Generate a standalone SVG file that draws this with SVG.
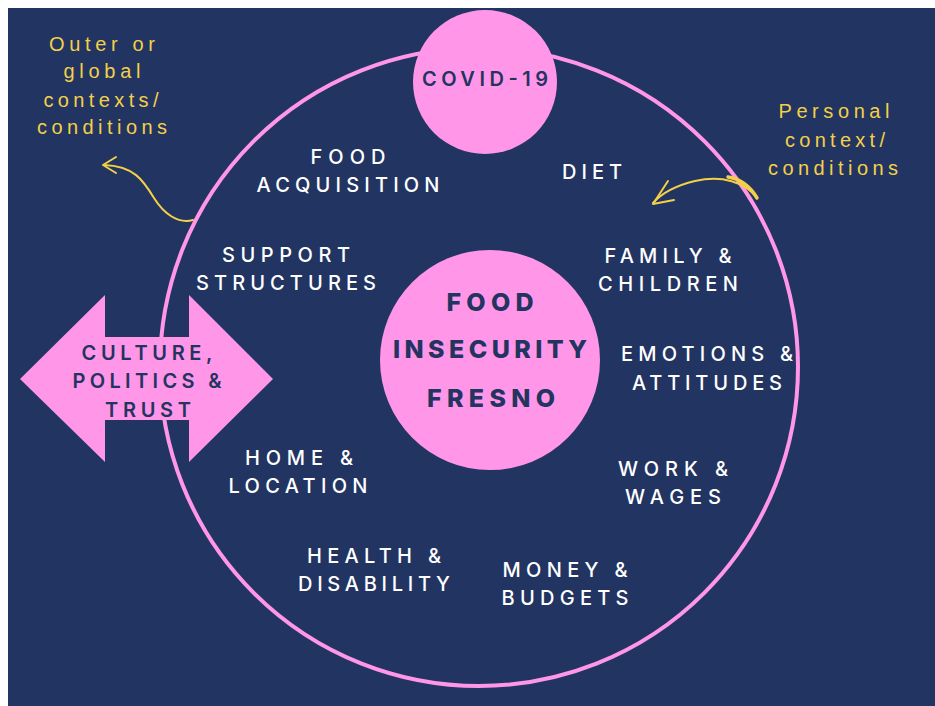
<svg xmlns="http://www.w3.org/2000/svg" width="935" height="706" viewBox="0 0 935 706">
<style>
.lbl{font-family:Inter,"Noto Sans",sans-serif;font-weight:500;font-size:20px;fill:#ffffff;text-anchor:middle}
.dark{font-family:Inter,"Noto Sans",sans-serif;font-weight:600;font-size:20px;fill:#22345f;text-anchor:middle}
.big{font-family:Inter,"Noto Sans",sans-serif;font-weight:800;font-size:25px;fill:#22345f;text-anchor:middle}
.ylw{font-family:"Liberation Sans",Arial,sans-serif;font-size:20px;fill:#f4d048;text-anchor:middle}
.pink{fill:#ff96e8}
.curl{fill:none;stroke:#f4d048;stroke-width:2;stroke-linecap:round;stroke-linejoin:round}
</style>
<rect x="0" y="0" width="935" height="706" fill="#ffffff"/>
<rect x="8" y="8" width="927" height="698" fill="#223462"/>

<g id="outer-ring">
<circle cx="479" cy="367" r="319" fill="none" stroke="#ff96e8" stroke-width="4"/>
</g>

<g id="connectors">
<path class="curl" d="M193,220 C178,224 164,214 154,198 C143,180 134,166 104,165"/>
<path class="curl" d="M116,157 L103,165 L116,173"/>
<path class="curl" d="M757,198 C745,182 722,175 695,181 C674,186 661,194 653,203"/>
<path class="curl" d="M668,181 L653,204 L674,200"/>
<path d="M728,177 C740,179 750,186 757,198" fill="none" stroke="#f4d048" stroke-width="3.5" stroke-linecap="round"/>
</g>

<g id="covid">
<circle class="pink" cx="485" cy="82" r="72"/>
<text class="dark" x="485" y="86" textLength="126" lengthAdjust="spacing">COVID-19</text>
</g>

<g id="center">
<circle class="pink" cx="490" cy="360" r="110"/>
<text class="big" x="490" y="311" textLength="87" lengthAdjust="spacing">FOOD</text>
<text class="big" x="490" y="358" textLength="194" lengthAdjust="spacing">INSECURITY</text>
<text class="big" x="491" y="407" textLength="128" lengthAdjust="spacing">FRESNO</text>
</g>

<g id="culture">
<polygon class="pink" points="20,379 105,295 105,337 189,337 189,295 273,379 189,462 189,420 105,420 105,462"/>
<text class="dark" x="147" y="360" textLength="131" lengthAdjust="spacing">CULTURE,</text>
<text class="dark" x="147" y="388" textLength="149" lengthAdjust="spacing">POLITICS &amp;</text>
<text class="dark" x="148" y="417" textLength="86" lengthAdjust="spacing">TRUST</text>
</g>

<g id="outer-label">
<text class="ylw" x="102" y="51" textLength="106" lengthAdjust="spacing">Outer or</text>
<text class="ylw" x="102" y="78" textLength="77" lengthAdjust="spacing">global</text>
<text class="ylw" x="101" y="107" textLength="115" lengthAdjust="spacing">contexts/</text>
<text class="ylw" x="102" y="134" textLength="130" lengthAdjust="spacing">conditions</text>
</g>

<g id="personal-label">
<text class="ylw" x="834" y="118" textLength="111" lengthAdjust="spacing">Personal</text>
<text class="ylw" x="835" y="147" textLength="100" lengthAdjust="spacing">context/</text>
<text class="ylw" x="833" y="175" textLength="130" lengthAdjust="spacing">conditions</text>
</g>

<g id="food-acquisition">
<text class="lbl" x="348" y="164" textLength="75" lengthAdjust="spacing">FOOD</text>
<text class="lbl" x="348" y="192" textLength="183" lengthAdjust="spacing">ACQUISITION</text>
</g>
<g id="diet">
<text class="lbl" x="592" y="179" textLength="60" lengthAdjust="spacing">DIET</text>
</g>
<g id="support">
<text class="lbl" x="286" y="262" textLength="128" lengthAdjust="spacing">SUPPORT</text>
<text class="lbl" x="286" y="290" textLength="180" lengthAdjust="spacing">STRUCTURES</text>
</g>
<g id="family">
<text class="lbl" x="668" y="263" textLength="127" lengthAdjust="spacing">FAMILY &amp;</text>
<text class="lbl" x="668" y="291" textLength="140" lengthAdjust="spacing">CHILDREN</text>
</g>
<g id="emotions">
<text class="lbl" x="707" y="361" textLength="172" lengthAdjust="spacing">EMOTIONS &amp;</text>
<text class="lbl" x="707" y="390" textLength="150" lengthAdjust="spacing">ATTITUDES</text>
</g>
<g id="home">
<text class="lbl" x="299" y="465" textLength="108" lengthAdjust="spacing">HOME &amp;</text>
<text class="lbl" x="298" y="493" textLength="139" lengthAdjust="spacing">LOCATION</text>
</g>
<g id="work">
<text class="lbl" x="673" y="476" textLength="110" lengthAdjust="spacing">WORK &amp;</text>
<text class="lbl" x="673" y="504" textLength="96" lengthAdjust="spacing">WAGES</text>
</g>
<g id="health">
<text class="lbl" x="374" y="563" textLength="134" lengthAdjust="spacing">HEALTH &amp;</text>
<text class="lbl" x="374" y="591" textLength="152" lengthAdjust="spacing">DISABILITY</text>
</g>
<g id="money">
<text class="lbl" x="565" y="577" textLength="125" lengthAdjust="spacing">MONEY &amp;</text>
<text class="lbl" x="565" y="605" textLength="127" lengthAdjust="spacing">BUDGETS</text>
</g>
</svg>
